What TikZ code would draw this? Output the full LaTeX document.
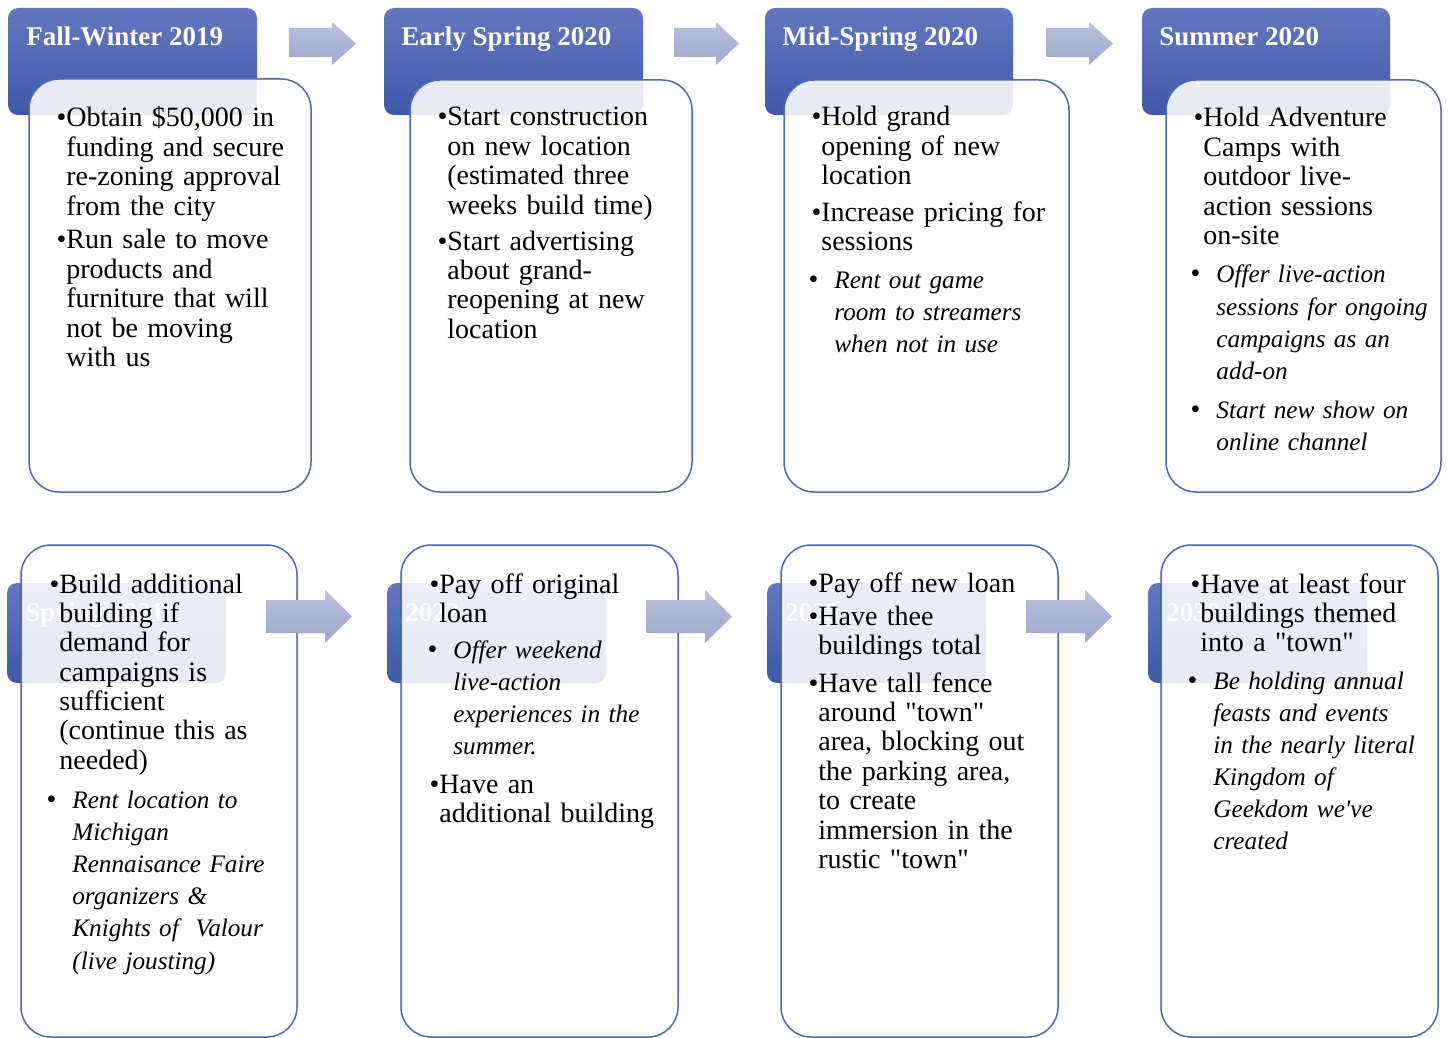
\documentclass[tikz,border=0pt]{standalone}
\usepackage{fontspec}
\setmainfont{Liberation Serif}
\definecolor{hdrT}{RGB}{99,119,192}
\definecolor{hdrB}{RGB}{62,89,168}
\definecolor{arrT}{RGB}{186,193,222}
\definecolor{arrB}{RGB}{158,167,205}
\definecolor{boxB}{RGB}{76,104,181}
\tikzset{
  hdr/.style={top color=hdrT, bottom color=hdrB, rounded corners=5pt},
  hdrtxt/.style={anchor=base west, inner sep=0pt, text=white, font=\fontsize{13.5}{16}\selectfont\bfseries},
  wbox/.style={draw=boxB, line width=0.75pt, fill=white, fill opacity=0.88, rounded corners=15pt},
  rom/.style={anchor=base west, inner sep=0pt, text width=150pt, align=left, font=\fontsize{14}{14.7}\selectfont},
  ita/.style={anchor=base west, inner sep=0pt, text width=150pt, align=left, font=\fontsize{12.6}{16.1}\selectfont\itshape},
  arr/.style={top color=arrT, bottom color=arrB},
}
\newcommand\rb{\llap{\textbullet}}
\newcommand\ib{\llap{\upshape\fontsize{14}{14.7}\selectfont\textbullet\hspace{8pt}}}
\newcommand\q{\textquotedbl}
\begin{document}
\begin{tikzpicture}[x=0.5pt,y=-0.5pt]
\fill[white] (0,0) rectangle (1448,1038);
\useasboundingbox (0,0) rectangle (1448,1038);

% ---------- top row headers ----------
\shade[hdr] (8,8) rectangle (257,115);
\node[hdrtxt] (h1) at (26,46) {Fall-Winter 2019};
\shade[hdr] (384,8) rectangle (643,115);
\node[hdrtxt] (h2) at (401,46) {Early Spring 2020};
\shade[hdr] (765,8) rectangle (1013,115);
\node[hdrtxt] (h3) at (782,46) {Mid-Spring 2020};
\shade[hdr] (1142,8) rectangle (1390,115);
\node[hdrtxt] (h4) at (1159,46) {Summer 2020};

% ---------- bottom row headers ----------
\shade[hdr] (7,583) rectangle (226,683);
\node[hdrtxt] (h5) at (25,621) {Spring 2021};
\shade[hdr] (387,583) rectangle (606,683);
\node[hdrtxt] (h6) at (405,621) {2022};
\shade[hdr] (767,583) rectangle (986,683);
\node[hdrtxt] (h7) at (785,621) {2025};
\shade[hdr] (1148,583) rectangle (1367,683);
\node[hdrtxt] (h8) at (1166,621) {2030};

% ---------- white boxes ----------
\draw[wbox] (29,79) rectangle (311,492);
\draw[wbox] (410,80) rectangle (692,492);
\draw[wbox] (784,80) rectangle (1069,492);
\draw[wbox] (1166,80) rectangle (1441,492);
\draw[wbox] (21,545) rectangle (297,1037);
\draw[wbox] (401,545) rectangle (678,1037);
\draw[wbox] (781,545) rectangle (1058,1037);
\draw[wbox] (1161,545) rectangle (1438,1037);

% ---------- arrows ----------
\shade[arr] (289,28) -- (332,28) -- (332,22) -- (356,43.5) -- (332,65) -- (332,57) -- (289,57) -- cycle;
\shade[arr] (674,28) -- (716,28) -- (716,22) -- (739,43.5) -- (716,65) -- (716,57) -- (674,57) -- cycle;
\shade[arr] (1046,28) -- (1089,28) -- (1089,22) -- (1113,43.5) -- (1089,65) -- (1089,57) -- (1046,57) -- cycle;
\shade[arr] (266,600) -- (325,600) -- (325,590) -- (352,616.5) -- (325,643) -- (325,633) -- (266,633) -- cycle;
\shade[arr] (646,600) -- (705,600) -- (705,590) -- (732,616.5) -- (705,643) -- (705,633) -- (646,633) -- cycle;
\shade[arr] (1026,600) -- (1085,600) -- (1085,590) -- (1112,616.5) -- (1085,643) -- (1085,633) -- (1026,633) -- cycle;

% ---------- texts, top row ----------
\node[rom] (t1a) at (66,127) {\rb Obtain \$50,000 in\\funding and secure\\re-zoning approval\\from the city};
\node[rom] (t1b) at (66,249) {\rb Run sale to move\\products and\\furniture that will\\not be moving\\with us};

\node[rom] (t2a) at (447,126) {\rb Start construction\\on new location\\(estimated three\\weeks build time)};
\node[rom] (t2b) at (447,250) {\rb Start advertising\\about grand-\\reopening at new\\location};

\node[rom] (t3a) at (821,126) {\rb Hold grand\\opening of new\\location};
\node[rom] (t3b) at (821,221) {\rb Increase pricing for\\sessions};
\node[ita] (t3c) at (834,288) {\ib Rent out game\\room to streamers\\when not in use};

\node[rom] (t4a) at (1203,127) {\rb Hold Adventure\\Camps with\\outdoor live-\\action sessions\\on-site};
\node[ita] (t4b) at (1216,283) {\ib Offer live-action\\sessions for ongoing\\campaigns as an\\add-on};
\node[ita] (t4c) at (1216,418) {\ib Start new show on\\online channel};

% ---------- texts, bottom row ----------
\node[rom] (t5a) at (59,593) {\rb Build additional\\building if\\demand for\\campaigns is\\sufficient\\(continue this as\\needed)};
\node[ita] (t5b) at (72,808) {\ib Rent location to\\Michigan\\Rennaisance Faire\\organizers \&\\Knights of~\ Valour\\(live jousting)};

\node[rom] (t6a) at (439,593) {\rb Pay off original\\loan};
\node[ita] (t6b) at (453,658) {\ib Offer weekend\\live-action\\experiences in the\\summer.};
\node[rom] (t6c) at (439,793) {\rb Have an\\additional building};

\node[rom] (t7a) at (818,592) {\rb Pay off new loan};
\node[rom] (t7b) at (818,625) {\rb Have thee\\buildings total};
\node[rom] (t7c) at (818,692) {\rb Have tall fence\\around \q town\q\\area, blocking out\\the parking area,\\to create\\immersion in the\\rustic \q town\q};

\node[rom] (t8a) at (1200,593) {\rb Have at least four\\buildings themed\\into a \q town\q};
\node[ita] (t8b) at (1213,689) {\ib Be holding annual\\feasts and events\\in the nearly literal\\Kingdom of\\Geekdom we\textquotesingle ve\\created};
\end{tikzpicture}
\end{document}
